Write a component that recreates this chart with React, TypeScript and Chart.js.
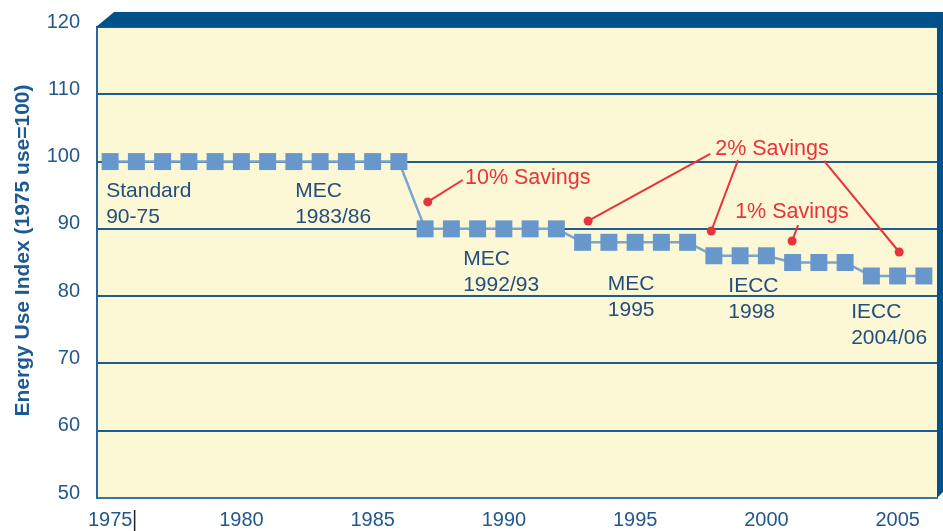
import React, { useEffect, useRef } from 'react';
import { Chart, registerables } from 'chart.js';

Chart.register(...registerables);

// ---- Data ----
const years = [
  1975, 1976, 1977, 1978, 1979, 1980, 1981, 1982, 1983, 1984, 1985, 1986,
  1987, 1988, 1989, 1990, 1991, 1992,
  1993, 1994, 1995, 1996, 1997,
  1998, 1999, 2000,
  2001, 2002, 2003,
  2004, 2005, 2006,
];
const energyUseIndex = [
  100, 100, 100, 100, 100, 100, 100, 100, 100, 100, 100, 100,
  90, 90, 90, 90, 90, 90,
  88, 88, 88, 88, 88,
  86, 86, 86,
  85, 85, 85,
  83, 83, 83,
];
const xTickYears = [1975, 1980, 1985, 1990, 1995, 2000, 2005];
const yTickValues = [50, 60, 70, 80, 90, 100, 110, 120];

const yAxisTitle = 'Energy Use Index (1975 use=100)';

// Code labels (first-line baseline anchored in data coords: year, index value)
const codeLabelLines = [
  ['Standard', '90-75'],
  ['MEC', '1983/86'],
  ['MEC', '1992/93'],
  ['MEC', '1995'],
  ['IECC', '1998'],
  ['IECC', '2004/06'],
];
const codeLabelYears = [1974.85, 1982.05, 1988.45, 1993.96, 1998.55, 2003.23];
const codeLabelValues = [94.7, 94.7, 84.6, 80.9, 80.6, 76.75];

// Savings callouts
const savingsTexts = ['10% Savings', '2% Savings', '1% Savings'];
const savingsTextYears = [1988.52, 1998.05, 1998.81];
const savingsTextValues = [96.67, 100.98, 91.57];

// Red pointer dots and the end of their leader lines
const pointerDotYears = [1987.1, 1993.21, 1997.9, 2005.06, 2000.98];
const pointerDotValues = [94.0, 91.17, 89.68, 86.56, 88.2];
const pointerEndYears = [1988.43, 1997.86, 1998.92, 2002.2, 2001.21];
const pointerEndValues = [97.26, 101.13, 100.23, 100.09, 90.57];

// ---- Styles ----
const FONT = '"Liberation Sans", Arial, Helvetica, sans-serif';
const PLOT_BG = '#FCF7D5';
const NAVY = '#03518A';
const GRID = '#1d5b91';
const TICK_COLOR = '#24588c';
const LABEL_COLOR = '#234f7e';
const RED = '#E8323C';
const MARKER = '#6797CB';
const LINE = '#7BA4D0';

const decorPlugin = {
  id: 'decor',
  beforeDraw(chart: any) {
    const { ctx, chartArea: a } = chart;
    ctx.save();
    ctx.fillStyle = PLOT_BG;
    ctx.fillRect(a.left, a.top, a.right - a.left, a.bottom - a.top);
    ctx.restore();
  },
  afterDatasetsDraw(chart: any) {
    const { ctx } = chart;
    const xs = chart.scales.x;
    const ys = chart.scales.y;
    ctx.save();
    // code labels
    ctx.font = `21px ${FONT}`;
    ctx.fillStyle = LABEL_COLOR;
    ctx.textAlign = 'left';
    ctx.textBaseline = 'alphabetic';
    codeLabelLines.forEach((lines, i) => {
      const px = xs.getPixelForValue(codeLabelYears[i]);
      const py = ys.getPixelForValue(codeLabelValues[i]);
      lines.forEach((t, j) => ctx.fillText(t, px, py + j * 25.5));
    });
    // leader lines
    ctx.strokeStyle = RED;
    ctx.lineWidth = 2;
    pointerDotYears.forEach((yr, i) => {
      ctx.beginPath();
      ctx.moveTo(xs.getPixelForValue(yr), ys.getPixelForValue(pointerDotValues[i]));
      ctx.lineTo(xs.getPixelForValue(pointerEndYears[i]), ys.getPixelForValue(pointerEndValues[i]));
      ctx.stroke();
    });
    ctx.fillStyle = RED;
    pointerDotYears.forEach((yr, i) => {
      ctx.beginPath();
      ctx.arc(xs.getPixelForValue(yr), ys.getPixelForValue(pointerDotValues[i]), 4.5, 0, Math.PI * 2);
      ctx.fill();
    });
    // savings texts
    ctx.font = `21.5px ${FONT}`;
    savingsTexts.forEach((t, i) => {
      ctx.fillText(t, xs.getPixelForValue(savingsTextYears[i]), ys.getPixelForValue(savingsTextValues[i]));
    });
    ctx.restore();
  },
  afterDraw(chart: any) {
    const { ctx, chartArea: a, width } = chart;
    ctx.save();
    // top band with slanted corner
    ctx.fillStyle = NAVY;
    ctx.beginPath();
    ctx.moveTo(a.left - 1, a.top);
    ctx.lineTo(a.left + 17, a.top - 15);
    ctx.lineTo(width, a.top - 15);
    ctx.lineTo(width, a.top);
    ctx.closePath();
    ctx.fill();
    // right band
    ctx.beginPath();
    ctx.moveTo(a.right, a.top - 1);
    ctx.lineTo(width, a.top - 1);
    ctx.lineTo(width, a.bottom - 6);
    ctx.lineTo(a.right, a.bottom);
    ctx.closePath();
    ctx.fill();
    // y axis title
    ctx.translate(28.5, (a.top + a.bottom) / 2 - 12);
    ctx.rotate(-Math.PI / 2);
    ctx.font = `bold 21px ${FONT}`;
    ctx.fillStyle = '#1d5a93';
    ctx.textAlign = 'center';
    ctx.textBaseline = 'alphabetic';
    ctx.fillText(yAxisTitle, 0, 0);
    ctx.restore();
    // small cursor mark after first x tick label
    const x0 = chart.scales.x.getPixelForValue(xTickYears[0]);
    ctx.save();
    ctx.strokeStyle = '#222';
    ctx.lineWidth = 1.5;
    ctx.beginPath();
    ctx.moveTo(x0 + 24.5, a.bottom + 12);
    ctx.lineTo(x0 + 24.5, chart.height);
    ctx.stroke();
    ctx.restore();
  },
};

export default function App() {
  const ref = useRef<HTMLCanvasElement | null>(null);
  useEffect(() => {
    if (!ref.current) return;
    const chart = new Chart(ref.current, {
      type: 'line',
      data: {
        datasets: [
          {
            data: years.map((y, i) => ({ x: y, y: energyUseIndex[i] })),
            borderColor: LINE,
            borderWidth: 2.5,
            pointStyle: 'rect',
            pointRadius: 12,
            pointBackgroundColor: MARKER,
            pointBorderColor: MARKER,
            pointBorderWidth: 0,
            tension: 0,
            fill: false,
          },
        ],
      },
      options: {
        animation: false,
        responsive: false,
        maintainAspectRatio: false,
        layout: { autoPadding: false, padding: { top: 27, right: 6, left: 0, bottom: 0 } },
        plugins: { legend: { display: false }, tooltip: { enabled: false }, title: { display: false } },
        scales: {
          x: {
            type: 'linear',
            min: 1974.5,
            max: 2006.5,
            afterBuildTicks: (s: any) => {
              s.ticks = xTickYears.map((v) => ({ value: v }));
            },
            afterFit: (s: any) => {
              s.height = 33;
              s.paddingLeft = 0;
              s.paddingRight = 0;
            },
            grid: { display: false, drawTicks: false },
            border: { display: true, color: '#3a73a8', width: 2 },
            ticks: {
              autoSkip: false,
              maxRotation: 0,
              padding: 10,
              color: TICK_COLOR,
              font: { family: FONT, size: 20 },
              callback: (v: any) => String(v),
            },
          },
          y: {
            min: 50,
            max: 120,
            afterBuildTicks: (s: any) => {
              s.ticks = yTickValues.map((v) => ({ value: v }));
            },
            afterFit: (s: any) => {
              s.width = 97;
              s.paddingTop = 0;
              s.paddingBottom = 0;
            },
            grid: { color: GRID, lineWidth: 2, drawTicks: false },
            border: { display: true, color: '#2a659b', width: 2 },
            ticks: {
              padding: 17,
              labelOffset: -5,
              color: TICK_COLOR,
              font: { family: FONT, size: 20 },
              callback: (v: any) => String(v),
            },
          },
        },
      },
      plugins: [decorPlugin],
    } as any);
    return () => chart.destroy();
  }, []);
  return (
    <div style={{ position: 'absolute', left: 0, top: 0, width: 943, height: 531, background: '#fff' }}>
      <canvas ref={ref} width={943} height={531} style={{ display: 'block', width: 943, height: 531 }} />
    </div>
  );
}
